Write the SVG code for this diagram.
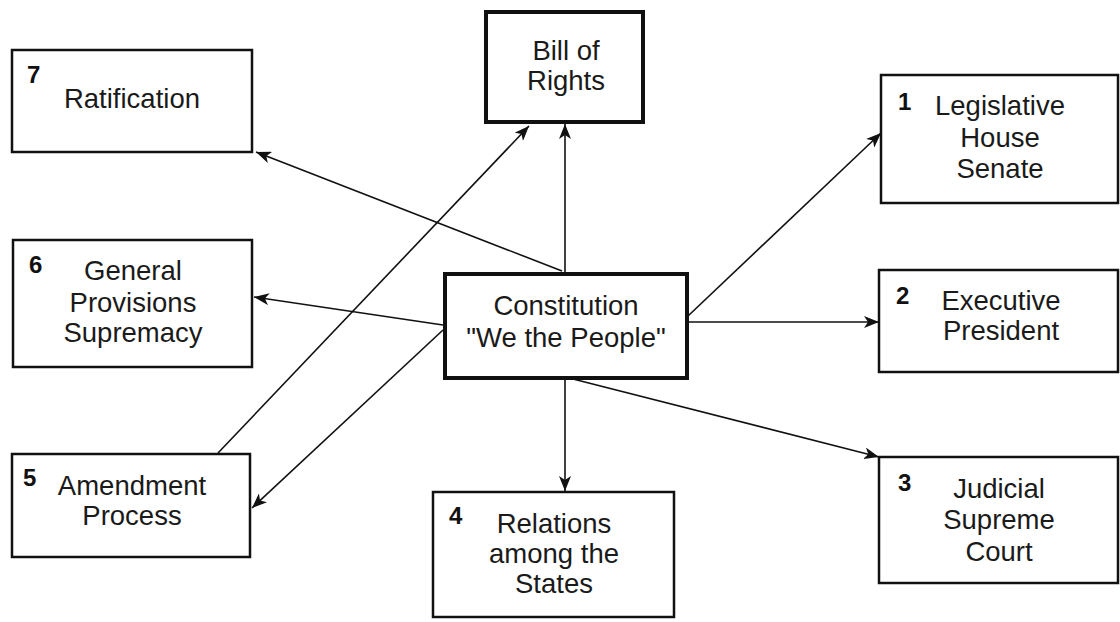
<svg xmlns="http://www.w3.org/2000/svg" width="1120" height="622" viewBox="0 0 1120 622">
<style>
.box{fill:#fff;stroke:#111;stroke-width:2.5}
.thick{stroke-width:4}
.t{font-family:"Liberation Sans",Arial,sans-serif;font-size:27.5px;fill:#1a1a1a;text-anchor:middle}
.n{font-family:"Liberation Sans",Arial,sans-serif;font-size:24px;font-weight:bold;fill:#111}
.c{stroke:#111;stroke-width:1.6;fill:none;marker-end:url(#ah)}
</style>
<defs>
<marker id="ah" markerUnits="userSpaceOnUse" markerWidth="16" markerHeight="12" refX="15" refY="6" orient="auto">
<path d="M0,0 L15,6 L0,12 L4,6 Z" fill="#111"/>
</marker>
</defs>
<rect width="1120" height="622" fill="#fff"/>
<g id="connectors">
<line class="c" x1="565" y1="272" x2="565" y2="124"/>
<line class="c" x1="562" y1="271" x2="256" y2="152"/>
<line class="c" x1="443" y1="325" x2="254" y2="297"/>
<line class="c" x1="443" y1="330" x2="252" y2="508"/>
<line class="c" x1="218" y1="453" x2="529" y2="126"/>
<line class="c" x1="688" y1="316" x2="881" y2="133"/>
<line class="c" x1="688" y1="322" x2="879" y2="322"/>
<line class="c" x1="573" y1="379" x2="879" y2="457"/>
<line class="c" x1="565" y1="379" x2="565" y2="491"/>
</g>
<g id="ratification">
<rect class="box" x="12" y="50" width="240" height="102"/>
<text class="n" x="27" y="83">7</text>
<text class="t" x="132" y="108">Ratification</text>
</g>
<g id="bill-of-rights">
<rect class="box thick" x="486" y="12" width="157" height="110"/>
<text class="t" x="566" y="60">Bill of</text>
<text class="t" x="566" y="90">Rights</text>
</g>
<g id="legislative">
<rect class="box" x="881" y="75" width="237" height="128"/>
<text class="n" x="898" y="110">1</text>
<text class="t" x="1000" y="115">Legislative</text>
<text class="t" x="1000" y="147">House</text>
<text class="t" x="1000" y="178">Senate</text>
</g>
<g id="general-provisions">
<rect class="box" x="13" y="240" width="239" height="127"/>
<text class="n" x="29" y="273">6</text>
<text class="t" x="133" y="280">General</text>
<text class="t" x="133" y="312">Provisions</text>
<text class="t" x="133" y="342">Supremacy</text>
</g>
<g id="constitution">
<rect class="box thick" x="445" y="274" width="242" height="104"/>
<text class="t" x="566" y="315">Constitution</text>
<text class="t" x="566" y="347">"We the People"</text>
</g>
<g id="executive">
<rect class="box" x="879" y="270" width="239" height="102"/>
<text class="n" x="896" y="304">2</text>
<text class="t" x="1001" y="310">Executive</text>
<text class="t" x="1001" y="340">President</text>
</g>
<g id="amendment">
<rect class="box" x="12" y="454" width="238" height="103"/>
<text class="n" x="23" y="486">5</text>
<text class="t" x="132" y="495">Amendment</text>
<text class="t" x="132" y="525">Process</text>
</g>
<g id="relations">
<rect class="box" x="433" y="492" width="241" height="125"/>
<text class="n" x="449" y="524">4</text>
<text class="t" x="554" y="533">Relations</text>
<text class="t" x="554" y="563">among the</text>
<text class="t" x="554" y="593">States</text>
</g>
<g id="judicial">
<rect class="box" x="879" y="457" width="239" height="126"/>
<text class="n" x="898" y="491">3</text>
<text class="t" x="999" y="498">Judicial</text>
<text class="t" x="999" y="529">Supreme</text>
<text class="t" x="999" y="561">Court</text>
</g>
</svg>
